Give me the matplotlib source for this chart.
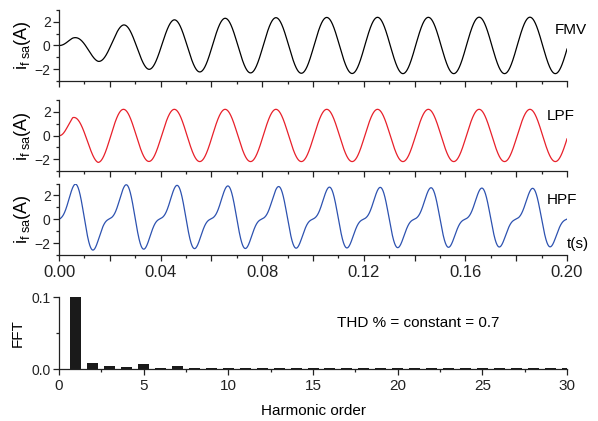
import numpy as np
import matplotlib
matplotlib.use('Agg')
from matplotlib import pyplot as plt
from matplotlib.ticker import MultipleLocator, FormatStrFormatter

plt.rcParams['font.family'] = ['Liberation Sans', 'DejaVu Sans']
plt.rcParams['mathtext.fontset'] = 'custom'
plt.rcParams['mathtext.rm'] = 'Liberation Sans'
plt.rcParams['mathtext.it'] = 'Liberation Sans'
plt.rcParams['mathtext.default'] = 'regular'

# signal timing
F0 = 50.0            # Hz, 10 cycles in 0.2 s
T_END = 0.2
PHASE_LAG = 0.0004   # s, zero crossing of the steady waves

# half-cycle extremes (A) of the filtered currents
FMV_EXTREMES = [0.62, -1.33, 1.72, -2.00, 2.15, -2.22, 2.28, -2.30, 2.33, -2.33,
                2.35, -2.35, 2.36, -2.36, 2.36, -2.36, 2.37, -2.36, 2.37, -2.36]
LPF_EXTREMES = [1.50, -2.25, 2.20, -2.17, 2.20, -2.18, 2.20, -2.18, 2.20, -2.18,
                2.20, -2.18, 2.20, -2.18, 2.20, -2.18, 2.20, -2.18, 2.20, -2.18]

# HPF: distorted wave, per-cycle peak and trough (A) and shape harmonics
HPF_PEAKS = [2.95, 2.90, 2.85, 2.80, 2.75, 2.70, 2.68, 2.65, 2.62, 2.60]
HPF_TROUGHS = [-2.60, -2.52, -2.45, -2.45, -2.42, -2.40, -2.38, -2.35, -2.32, -2.30]
HPF_HARMONICS = [1.0, -0.42]   # relative sin(k*wt) amplitudes, k = 1, 2
HPF_COS2 = -0.08               # A, small cos(2wt) term flattening the shoulder

# FFT bars
HARMONIC_ORDER = list(range(1, 31))
FFT_MAG = [0.1, 0.0088, 0.004, 0.0028, 0.0074, 0.0012, 0.004, 0.001, 0.001, 0.001,
           0.001, 0.001, 0.001, 0.001, 0.001, 0.001, 0.001, 0.001, 0.001, 0.001,
           0.001, 0.001, 0.001, 0.001, 0.001, 0.001, 0.001, 0.001, 0.001, 0.001]
THD_TEXT = 'THD % = constant = 0.7'

t = np.linspace(0, T_END, 4000)
w = 2 * np.pi * F0


def sine_wave(extremes):
    tk = [0.0] + [PHASE_LAG + 0.005 + 0.01 * k for k in range(len(extremes))]
    ek = [0.0] + [abs(e) for e in extremes]
    env = np.interp(t, tk, ek)
    return env * np.sin(w * (t - PHASE_LAG))


def hpf_wave():
    x = w * t
    shape = sum(a * np.sin((k + 1) * x) for k, a in enumerate(HPF_HARMONICS))
    xx = np.linspace(0, 2 * np.pi, 2000)
    ref = sum(a * np.sin((k + 1) * xx) for k, a in enumerate(HPF_HARMONICS))
    norm = ref.max()
    tc = [0.0065 + 0.02 * k for k in range(len(HPF_PEAKS))]
    amp = [(p - q) / 2 / norm for p, q in zip(HPF_PEAKS, HPF_TROUGHS)]
    dc = [(p + q) / 2 + 0.59 * HPF_COS2 for p, q in zip(HPF_PEAKS, HPF_TROUGHS)]
    a_t = np.interp(t, tc, amp)
    dc_t = np.interp(t, [0.0] + tc, [-HPF_COS2] + dc)
    return a_t * shape + dc_t + HPF_COS2 * np.cos(2 * x)


traces = [
    (sine_wave(FMV_EXTREMES), 'black', 'FMV', 0.976, 0.71),
    (sine_wave(LPF_EXTREMES), '#e8202a', 'LPF', 0.961, 0.77),
    (hpf_wave(), '#2d52b0', 'HPF', 0.961, 0.77),
]

fig = plt.figure(figsize=(5.98, 4.21), dpi=100)
bottoms = [0.807, 0.593, 0.394]
axes = []


def style(ax):
    for s in ['top', 'right']:
        ax.spines[s].set_visible(False)
    for s in ['left', 'bottom']:
        ax.spines[s].set_color('#222222')
        ax.spines[s].set_linewidth(0.9)
    ax.tick_params(which='major', direction='out', length=4, width=0.9, colors='#222222')
    ax.tick_params(which='minor', direction='out', length=2.5, width=0.9, colors='#222222')
    ax.tick_params(axis='y', labelsize=10, pad=2)


for (y, col, name, tx, ty), b in zip(traces, bottoms):
    ax = fig.add_axes([0.0987, b, 0.8495, 0.170])
    ax.plot(t, y, color=col, lw=0.9)
    ax.set_xlim(0, T_END)
    ax.set_ylim(-3, 3)
    ax.xaxis.set_major_locator(MultipleLocator(0.02))
    ax.xaxis.set_minor_locator(MultipleLocator(0.01))
    ax.yaxis.set_major_locator(MultipleLocator(2))
    ax.yaxis.set_minor_locator(MultipleLocator(1))
    style(ax)
    ax.set_ylabel(r'$i_{f\ sa}(A)$', fontsize=13, labelpad=1)
    ax.text(tx, ty, name, transform=ax.transAxes, fontsize=11, va='center', ha='left')
    axes.append(ax)

for ax in axes[:2]:
    ax.tick_params(axis='x', labelbottom=False)

ax3 = axes[2]
ax3.set_xticks([0.00, 0.04, 0.08, 0.12, 0.16, 0.20])
ax3.set_xticklabels(['0.00', '0.04', '0.08', '0.12', '0.16', '0.20'])
# long unlabelled ticks on the 0.02 steps, short ones on the 0.01 steps
ax3.set_xticks([0.01 * k for k in range(1, 20, 2)] + [0.02, 0.06, 0.10, 0.14, 0.18], minor=True)
ax3.tick_params(axis='x', labelsize=12, pad=3)
ax3.text(1.0, 0.16, 't(s)', transform=ax3.transAxes, fontsize=11, ha='left', va='center')
for tk in ax3.xaxis.get_minor_ticks():
    tk.tick1line.set_markersize(2.5)
for tk, v in zip(ax3.xaxis.get_minor_ticks(), ax3.xaxis.get_minorticklocs()):
    if round(v / 0.01) % 2 == 0:
        tk.tick1line.set_markersize(4)

ax4 = fig.add_axes([0.0987, 0.1235, 0.8495, 0.171])
ax4.bar(HARMONIC_ORDER, FFT_MAG, width=0.65, color='#1a1a1a')
ax4.set_xlim(0, 30)
ax4.set_ylim(0, 0.1)
ax4.xaxis.set_major_locator(MultipleLocator(5))
ax4.xaxis.set_minor_locator(MultipleLocator(2.5))
ax4.yaxis.set_major_locator(MultipleLocator(0.1))
ax4.yaxis.set_minor_locator(MultipleLocator(0.05))
ax4.yaxis.set_major_formatter(FormatStrFormatter('%.1f'))
style(ax4)
ax4.tick_params(axis='x', labelsize=11, pad=3)
ax4.set_ylabel('FFT', fontsize=11, labelpad=5)
ax4.set_xlabel('Harmonic order', fontsize=11, labelpad=8)
ax4.text(16.4, 0.064, THD_TEXT, fontsize=11, ha='left', va='center')

fig.savefig('out.png', dpi=100)
